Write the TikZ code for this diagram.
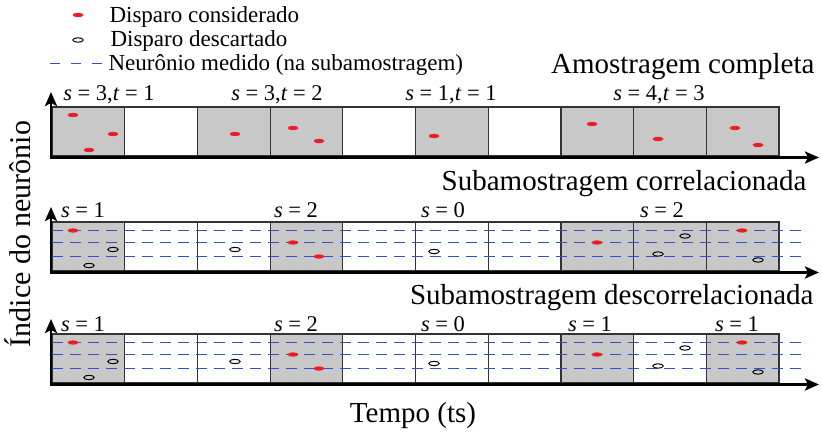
\documentclass[tikz,border=0pt]{standalone}
\usepackage{fontspec}
\setmainfont{Liberation Serif}
\usetikzlibrary{arrows.meta}
\definecolor{cellgray}{RGB}{200,200,200}
\definecolor{measblue}{RGB}{50,80,200}
\definecolor{spikered}{RGB}{235,30,40}
\begin{document}
\begin{tikzpicture}[x=1pt, y=-1pt,
    cell/.style={draw=black!80, line width=1.2pt, fill=white, anchor=north west,
      minimum width=72.7pt, minimum height=49pt, inner sep=0pt, outer sep=0pt},
    firing/.style={cell, fill=cellgray},
    axis/.style={line width=2.8pt, {Stealth[length=14pt, width=12pt, inset=3pt]}-{Stealth[length=14pt, width=12pt, inset=3pt]}},
    measured/.style={draw=measblue, line width=1.2pt, dash pattern=on 11pt off 7pt},
    kept/.style={spikered},
    dropped/.style={black, line width=1pt},
    title/.style={font=\fontsize{29}{31}\selectfont, anchor=base east},
    lab/.style={font=\fontsize{22.5}{24}\selectfont, anchor=base},
    legend/.style={font=\fontsize{23}{25}\selectfont, anchor=base west}]
    \useasboundingbox (0,0) rectangle (822,432);

    % Legend
    \fill[kept] (78,15) ellipse (5.5pt and 2.2pt);
    \node[legend] (lgkept) at (106,22) {Disparo considerado};
    \draw[dropped] (78,40) ellipse (5.2pt and 2.2pt);
    \node[legend] (lgdrop) at (107,46) {Disparo descartado};
    \draw[measured, line width=1.5pt, dash pattern=on 10pt off 11pt] (50,63.5) -- (102,63.5);
    \node[legend] (lgmeas) at (105,70) {Neurônio medido (na subamostragem)};

    % Titles of the three rows
    \node[title] (t1) at (818,73) {Amostragem completa};
    \node[title] (t2) at (810,190) {Subamostragem correlacionada};
    \node[title] (t3) at (817,304) {Subamostragem descorrelacionada};

    % Time bins (grey = bin with at least one counted spike)
    \foreach \r/\ytop/\filled in {1/107/{1,3,4,6,8,9,10}, 2/222/{1,4,8,9,10}, 3/334/{1,4,8,10}} {
      \foreach \b in {1,...,10}
        \node[cell] (c\r-\b) at ({52+72.7*(\b-1)},\ytop) {};
      \foreach \b in \filled
        \node[firing] (f\r-\b) at ({52+72.7*(\b-1)},\ytop) {};
      \coordinate (ytip\r) at (51,{\ytop-15});
      \coordinate (xtip\r) at (819,{\ytop+50.5});
    }

    % Avalanche sizes
    \node[lab] (s1a) at (109,100) {\textit{s} = 3,\textit{t} = 1};
    \node[lab] (s1b) at (277,100) {\textit{s} = 3,\textit{t} = 2};
    \node[lab] (s1c) at (451,100) {\textit{s} = 1,\textit{t} = 1};
    \node[lab] (s1d) at (659,100) {\textit{s} = 4,\textit{t} = 3};
    \node[lab] (s2a) at (83,217) {\textit{s} = 1};
    \node[lab] (s2b) at (296,217) {\textit{s} = 2};
    \node[lab] (s2c) at (443,217) {\textit{s} = 0};
    \node[lab] (s2d) at (662,217) {\textit{s} = 2};
    \node[lab] (s3a) at (83,331) {\textit{s} = 1};
    \node[lab] (s3b) at (296,331) {\textit{s} = 2};
    \node[lab] (s3c) at (443,331) {\textit{s} = 0};
    \node[lab] (s3d) at (590,331) {\textit{s} = 1};
    \node[lab] (s3e) at (737,331) {\textit{s} = 1};

    % Full sampling: every spike counts
    \foreach \x/\y in {73/8,113/27,89/43,235/27,293/21,319/34,434/29,592/17,658/32,735/21,758/38}
      \fill[kept] (\x,{107+\y}) ellipse (5.5pt and 2.2pt);

    % Subsampling: measured neurons and spikes
    \foreach \ytop in {222,334} {
      \foreach \y in {8.5,20.5,34.5}
        \draw[measured] (52,{\ytop+\y}) -- (802,{\ytop+\y});
      \foreach \x/\y in {73/8.5,293/20.5,319/34.5,597/20.5,742/8.5}
        \fill[kept] (\x,{\ytop+\y}) ellipse (5.5pt and 2.2pt);
      \foreach \x/\y in {113/27.5,89/43.5,235/27.5,434/29.5,685/14,658/32,758/38}
        \draw[dropped] (\x,{\ytop+\y}) ellipse (5.2pt and 2.2pt);
    }

    % Axes
    \foreach \r in {1,2,3}
      \draw[axis] (ytip\r) |- (xtip\r);

    \node[font=\fontsize{30}{32}\selectfont, rotate=90] (ylab) at (18,234) {Índice do neurônio};
    \node[font=\fontsize{29}{31}\selectfont, anchor=base] (xlab) at (413,422) {Tempo (ts)};
\end{tikzpicture}
\end{document}
